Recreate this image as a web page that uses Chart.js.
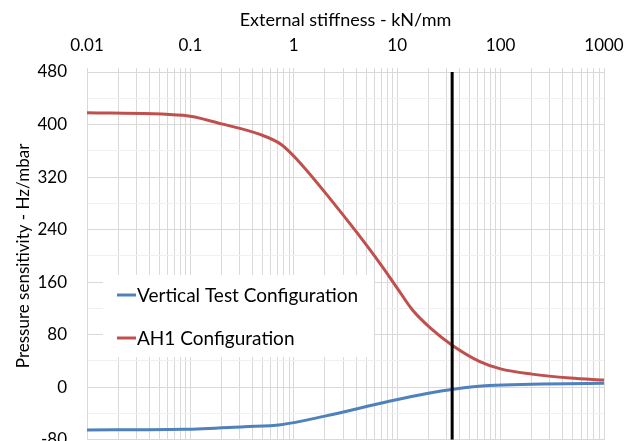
<!DOCTYPE html>
<html>
<head>
<meta charset="utf-8">
<script src="https://cdn.jsdelivr.net/npm/chart.js@4.4.0/dist/chart.umd.min.js"></script>
<style>
html, body { margin: 0; padding: 0; overflow: hidden; background: #fff; }
#wrap { width: 636px; height: 470px; }
</style>
</head>
<body>
<div id="wrap"><canvas id="myChart" width="636" height="470"></canvas></div>
<script>
// series names
var seriesNames = ['Vertical Test Configuration', 'AH1 Configuration'];

// Vertical Test Configuration (blue)
var verticalStiffness = [0.01, 0.086, 0.33, 0.75, 2.0, 8.0, 20, 35, 77, 1000];
var verticalSensitivity = [-65, -64, -60, -57, -44, -22, -9, -3, 2.5, 6];

// AH1 Configuration (red)
var ah1Stiffness = [0.01, 0.085, 0.2, 0.47, 0.75, 1.1, 2.3, 4.1, 7, 10, 14, 21, 34, 63, 100, 200, 470, 1000];
var ah1Sensitivity = [418, 414, 401, 385, 370, 345, 285, 235, 186, 151, 118, 90, 64, 39, 28, 20, 14, 11];

// black marker line
var markerStiffness = 34;

// tick labels
var xDecades = [0.01, 0.1, 1, 10, 100, 1000];
var yMin = -80, yMax = 480, yMajorStep = 80, yMinorStep = 20;

var fontFamily = 'Lato, "Open Sans", sans-serif';

function pairs(xs, ys) {
    var out = [];
    for (var i = 0; i < xs.length; i++) {
        out.push({ x: xs[i], y: ys[i] });
    }
    return out;
}

function isDecade(v) {
    var l = Math.log10(v);
    return Math.abs(l - Math.round(l)) < 1e-9;
}

// legend drawn inside the plot, like the excel one
var insideLegend = {
    id: 'insideLegend',
    afterDraw: function (chart) {
        var ctx = chart.ctx;
        var area = chart.chartArea;
        var x0 = area.left + 16, y0 = 275, w = 271, h = 82;
        ctx.save();
        ctx.fillStyle = '#ffffff';
        ctx.fillRect(x0, y0, w, h);
        var colors = ['#4f81bd', '#c0504d'];
        var rows = [295, 338];
        ctx.font = '19px ' + fontFamily;
        ctx.textBaseline = 'middle';
        ctx.textAlign = 'left';
        for (var i = 0; i < seriesNames.length; i++) {
            ctx.strokeStyle = colors[i];
            ctx.lineWidth = 3;
            ctx.beginPath();
            ctx.moveTo(x0 + 14, rows[i]);
            ctx.lineTo(x0 + 33, rows[i]);
            ctx.stroke();
            ctx.fillStyle = '#000000';
            ctx.fillText(seriesNames[i], x0 + 34, rows[i] + 1);
        }
        ctx.restore();
    }
};

var ctx = document.getElementById('myChart').getContext('2d');

var myChart = new Chart(ctx, {
    type: 'line',
    data: {
        datasets: [{
            data: pairs([markerStiffness, markerStiffness], [yMin, yMax]),
            borderColor: '#000000',
            borderWidth: 3,
            pointRadius: 0,
            tension: 0
        }, {
            label: seriesNames[0],
            data: pairs(verticalStiffness, verticalSensitivity),
            borderColor: '#4f81bd',
            borderWidth: 3,
            pointRadius: 0,
            cubicInterpolationMode: 'monotone'
        }, {
            label: seriesNames[1],
            data: pairs(ah1Stiffness, ah1Sensitivity),
            borderColor: '#c0504d',
            borderWidth: 3,
            pointRadius: 0,
            cubicInterpolationMode: 'monotone'
        }]
    },
    options: {
        responsive: false,
        animation: false,
        layout: { padding: { top: 0, left: 0, right: 32, bottom: 28 } },
        plugins: {
            legend: { display: false },
            tooltip: { enabled: false }
        },
        scales: {
            x: {
                type: 'logarithmic',
                position: 'top',
                min: 0.01,
                max: 1000,
                afterBuildTicks: function (scale) {
                    var ticks = [];
                    for (var i = 0; i < xDecades.length; i++) {
                        ticks.push({ value: xDecades[i] });
                        if (i < xDecades.length - 1) {
                            for (var m = 2; m <= 9; m++) {
                                ticks.push({ value: xDecades[i] * m });
                            }
                        }
                    }
                    scale.ticks = ticks;
                },
                afterFit: function (scale) { scale.height = 72; },
                ticks: {
                    autoSkip: false,
                    maxRotation: 0,
                    padding: 12,
                    color: '#000000',
                    font: { family: fontFamily, size: 17 },
                    callback: function (value) {
                        return isDecade(value) ? String(value) : '';
                    }
                },
                grid: { color: '#d9d9d9', tickLength: 4 },
                border: { color: '#d9d9d9' },
                title: {
                    display: true,
                    text: 'External stiffness - kN/mm',
                    color: '#000000',
                    font: { family: fontFamily, size: 18 },
                    padding: { top: 9, bottom: 0 }
                }
            },
            y: {
                min: yMin,
                max: yMax,
                afterFit: function (scale) { scale.width = 87; },
                ticks: {
                    stepSize: yMinorStep,
                    padding: 20,
                    color: '#000000',
                    font: { family: fontFamily, size: 17 },
                    callback: function (value) {
                        return value % yMajorStep === 0 ? value : '';
                    }
                },
                grid: {
                    drawTicks: false,
                    color: function (c) {
                        return c.tick && c.tick.value % yMajorStep === 0 ? '#d9d9d9' : '#f0f0f0';
                    }
                },
                border: { color: '#d9d9d9' },
                title: {
                    display: true,
                    text: 'Pressure sensitivity - Hz/mbar',
                    color: '#000000',
                    font: { family: fontFamily, size: 17 },
                    padding: { top: 13, bottom: 0 }
                }
            }
        }
    },
    plugins: [insideLegend]
});
</script>
</body>
</html>
